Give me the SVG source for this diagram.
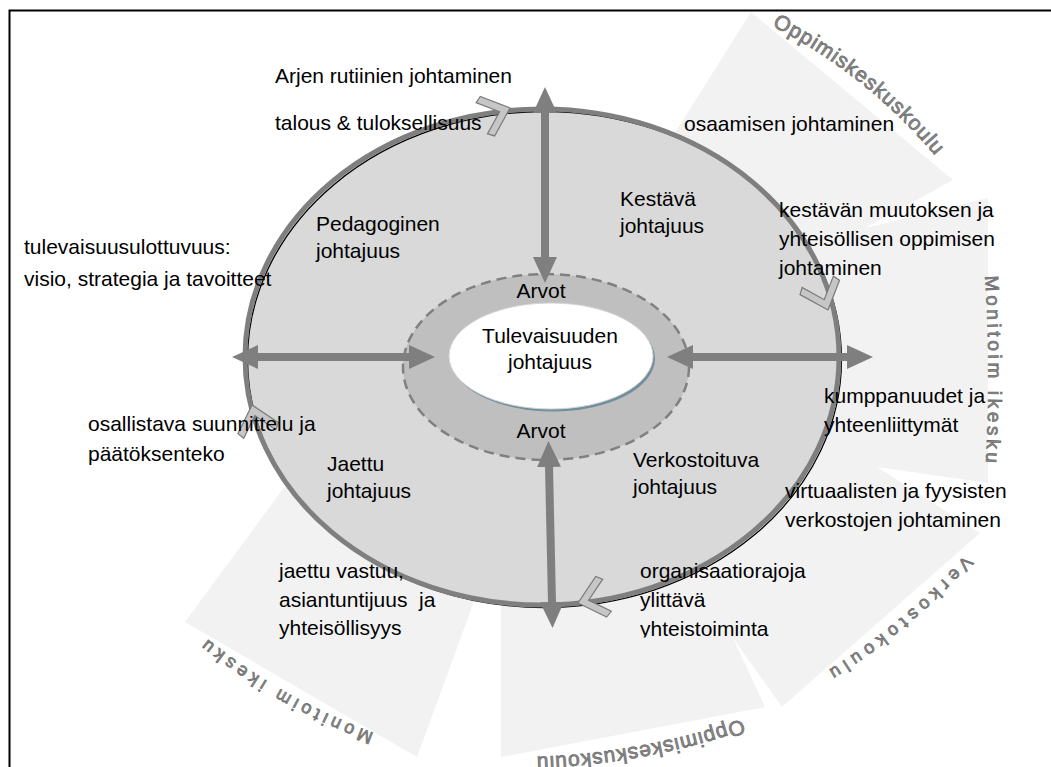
<svg xmlns="http://www.w3.org/2000/svg" width="1051" height="767" viewBox="0 0 1051 767">
  <style>
    .lbl { font-family: "Liberation Sans", Arial, sans-serif; font-size: 21px; fill: #000; }
    .mid { text-anchor: middle; }
    .seg { fill: #f2f2f2; }
    .segtxt { font-family: "Liberation Sans", Arial, sans-serif; fill: #8c8c8c; stroke: #6a6a6a; stroke-width: 0.7; }
    .chev { fill: #c6c6c6; stroke: #7a7a7a; stroke-width: 1.2; }
    .arrow { stroke: #7f7f7f; stroke-width: 8; fill: none; marker-start: url(#ah); marker-end: url(#ah); }
  </style>
  <defs>
    <marker id="ah" markerUnits="userSpaceOnUse" markerWidth="26" markerHeight="24" viewBox="0 0 26 24" refX="1" refY="12" orient="auto-start-reverse">
      <path d="M0,0 L26,12 L0,24 z" fill="#7f7f7f"/>
    </marker>
    <polygon id="chevron" points="0,0 -24,-21 -30,-16.6 -11,0 -30,16.6 -24,21"/>
    <path id="pA" d="M 772 26 A 520 520 0 0 1 937 158"/>
    <path id="pB" d="M 985 276 A 1500 1500 0 0 1 985 476"/>
    <path id="pC" d="M 965 555 A 600 600 0 0 1 820 675"/>
    <path id="pD" d="M 742 719 A 700 700 0 0 1 528 757"/>
    <path id="pE" d="M 374 733 A 600 600 0 0 1 200 633"/>
    <clipPath id="clipOrg">
      <rect x="600" y="540" width="300" height="97.5"/>
    </clipPath>
  </defs>

  <!-- frame -->
  <rect x="9.5" y="10.5" width="1100" height="800" fill="#fff" stroke="#000" stroke-width="2"/>

  <!-- outer segments with their labels -->
  <g id="segment-oppimiskeskuskoulu-top">
    <polygon class="seg" points="598,255 751,12 953,180 865,228 545,357"/>
    <text class="segtxt" font-size="21" letter-spacing="1"><textPath href="#pA">Oppimiskeskuskoulu</textPath></text>
  </g>
  <g id="segment-monitoimikesku-right">
    <polygon class="seg" points="865,228 988,198 988,483 877,467 545,357"/>
    <text class="segtxt" font-size="19" letter-spacing="3.6"><textPath href="#pB">Monitoim ikesku</textPath></text>
  </g>
  <g id="segment-verkostokoulu">
    <polygon class="seg" points="877,467 980,533 782,707 733,638 545,357"/>
    <text class="segtxt" font-size="18" letter-spacing="5.5"><textPath href="#pC">Verkostokoulu</textPath></text>
  </g>
  <g id="segment-oppimiskeskuskoulu-bottom">
    <polygon class="seg" points="733,638 765,707 501,757 501,528 545,357"/>
    <text class="segtxt" font-size="21" letter-spacing="1"><textPath href="#pD">Oppimiskeskuskoulu</textPath></text>
  </g>
  <g id="segment-monitoimikesku-left">
    <polygon class="seg" points="501,528 417,757 185,622 305,459 545,357"/>
    <text class="segtxt" font-size="18" letter-spacing="4.5"><textPath href="#pE">Monitoim ikesku</textPath></text>
  </g>

  <!-- leadership ring -->
  <g id="leadership-ring">
    <ellipse cx="542" cy="357" rx="297" ry="248" fill="#d9d9d9"/>
    <ellipse cx="544.5" cy="359.5" rx="297" ry="248" fill="none" stroke="#000" stroke-width="1.3"/>
    <ellipse cx="542" cy="357" rx="297" ry="248" fill="none" stroke="#7f7f7f" stroke-width="5"/>
  </g>

  <!-- values ring -->
  <g id="values-ring">
    <ellipse cx="546" cy="367" rx="143" ry="93" fill="#bfbfbf" stroke="#808080" stroke-width="2.5" stroke-dasharray="10 6"/>
    <text class="lbl mid" x="541" y="298">Arvot</text>
    <text class="lbl mid" x="541" y="438">Arvot</text>
  </g>

  <!-- centre -->
  <g id="future-leadership">
    <ellipse cx="553" cy="358.5" rx="102" ry="53" fill="#6f8f9c"/>
    <ellipse cx="551" cy="356" rx="102" ry="53" fill="#fff" stroke="#d4d4d4" stroke-width="1"/>
    <text class="lbl mid" x="550" y="343" font-size="18">Tulevaisuuden</text>
    <text class="lbl mid" x="550" y="369" font-size="18">johtajuus</text>
  </g>

  <!-- connectors -->
  <g id="connectors">
    <line class="arrow" x1="545" y1="112" x2="545" y2="258"/>
    <line class="arrow" x1="549" y1="466" x2="552" y2="603"/>
    <line class="arrow" x1="257" y1="357" x2="410" y2="357"/>
    <line class="arrow" x1="692" y1="357" x2="848" y2="357"/>
  </g>

  <!-- rotation chevrons on the ring -->
  <g id="chevrons">
    <use href="#chevron" class="chev" transform="translate(510,108) rotate(-20)"/>
    <use href="#chevron" class="chev" transform="translate(828,310) rotate(70)"/>
    <use href="#chevron" class="chev" transform="translate(578,603) rotate(165)"/>
    <use href="#chevron" class="chev" transform="translate(252,405) rotate(-105)"/>
  </g>

  <!-- quadrant labels -->
  <g id="pedagogical">
    <text class="lbl" x="316" y="231">Pedagoginen</text>
    <text class="lbl" x="316" y="258">johtajuus</text>
  </g>
  <g id="sustainable">
    <text class="lbl" x="620" y="206">Kestävä</text>
    <text class="lbl" x="620" y="233">johtajuus</text>
  </g>
  <g id="shared">
    <text class="lbl" x="327" y="471">Jaettu</text>
    <text class="lbl" x="327" y="498">johtajuus</text>
  </g>
  <g id="networked">
    <text class="lbl" x="633" y="467">Verkostoituva</text>
    <text class="lbl" x="633" y="494">johtajuus</text>
  </g>

  <!-- outer labels -->
  <g id="routines">
    <text class="lbl" x="275" y="83">Arjen rutiinien johtaminen</text>
    <text class="lbl" x="275" y="130">talous &amp; tuloksellisuus</text>
  </g>
  <g id="competence">
    <text class="lbl" x="684" y="131" font-size="20.2">osaamisen johtaminen</text>
  </g>
  <g id="change-learning">
    <text class="lbl" x="779" y="217">kestävän muutoksen ja</text>
    <text class="lbl" x="779" y="246">yhteisöllisen oppimisen</text>
    <text class="lbl" x="779" y="275">johtaminen</text>
  </g>
  <g id="future-dimension">
    <text class="lbl" x="24" y="254">tulevaisuusulottuvuus:</text>
    <text class="lbl" x="24" y="286">visio, strategia ja tavoitteet</text>
  </g>
  <g id="partnerships">
    <text class="lbl" x="824" y="403">kumppanuudet ja</text>
    <text class="lbl" x="824" y="432">yhteenliittymät</text>
  </g>
  <g id="participation">
    <text class="lbl" x="88" y="431">osallistava suunnittelu ja</text>
    <text class="lbl" x="88" y="461">päätöksenteko</text>
  </g>
  <g id="networks">
    <text class="lbl" x="785" y="498" font-size="20.5">virtuaalisten ja fyysisten</text>
    <text class="lbl" x="785" y="527" font-size="20.5">verkostojen johtaminen</text>
  </g>
  <g id="cross-boundary">
    <text class="lbl" x="640" y="578">organisaatiorajoja</text>
    <text class="lbl" x="640" y="607">ylittävä</text>
    <text class="lbl" x="640" y="636" clip-path="url(#clipOrg)">yhteistoiminta</text>
  </g>
  <g id="shared-responsibility">
    <text class="lbl" x="279" y="578">jaettu vastuu,</text>
    <text class="lbl" x="279" y="607" style="white-space:pre">asiantuntijuus  ja</text>
    <text class="lbl" x="279" y="635">yhteisöllisyys</text>
  </g>
</svg>
